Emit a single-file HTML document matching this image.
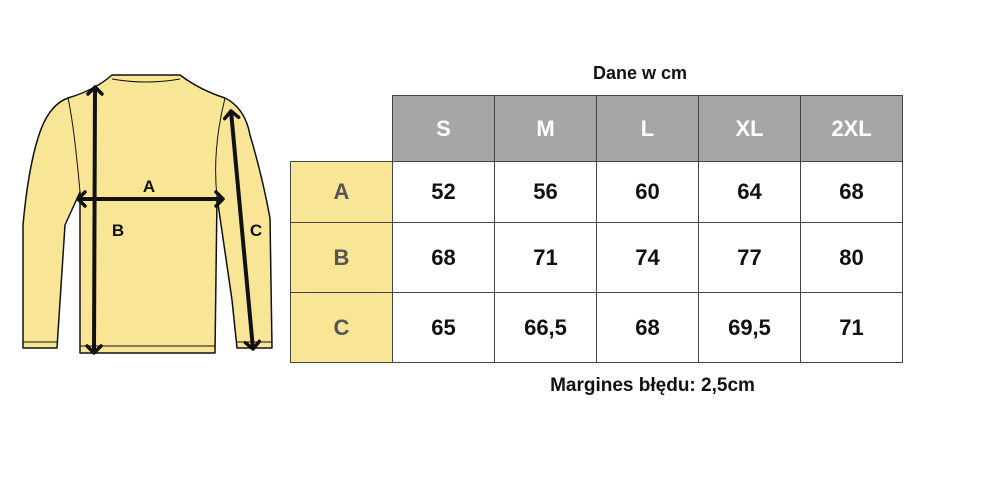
<!DOCTYPE html>
<html><head><style>
body{margin:0;width:1000px;height:500px;background:#fff;position:relative;overflow:hidden;font-family:"Liberation Sans",sans-serif;font-weight:bold}
.c{position:absolute;box-sizing:border-box;border:1.5px solid #444;display:flex;align-items:center;justify-content:center;font-size:22px;color:#111}
.h{background:#a6a6a6;color:#fff}
.y{background:#f8e596;color:#555}
.t{position:absolute;font-size:18px;color:#111}
</style></head><body>
<svg width="290" height="380" style="position:absolute;left:0;top:0">
<defs><marker id="a" markerWidth="20" markerHeight="20" refX="10" refY="10" orient="auto-start-reverse" markerUnits="userSpaceOnUse"><path d="M3,3 L10,10 L3,17" fill="none" stroke="#111" stroke-width="3.5" stroke-linecap="round" stroke-linejoin="round"/></marker></defs>
<path d="M112,75 L180,75 Q200,90 225,98 Q245,108 250,135 Q262,175 270,218 L272,348 L237,348 L232,300 L217,197 L215,353 L80,353 L80,192 L65,225 L57,348 L23,348 L23,225 Q28,170 38,138 Q48,105 68,98 Q95,90 112,75 Z" fill="#f8e596" stroke="#111" stroke-width="1.5" stroke-linejoin="round"/>
<path d="M68,98 Q74,125 80,192 M225,98 Q212,150 217,197 M23,342 L57,342 M237,342 L272,342 M80,346 L215,346 M112,79 Q146,85 180,79" fill="none" stroke="#111" stroke-width="1"/>
<g stroke="#111" stroke-width="4" fill="none">
<line x1="95" y1="87" x2="94" y2="353" marker-start="url(#a)" marker-end="url(#a)"/>
<line x1="78" y1="199" x2="223" y2="199" marker-start="url(#a)" marker-end="url(#a)"/>
<line x1="231" y1="111" x2="253" y2="349" marker-start="url(#a)" marker-end="url(#a)"/>
</g>
<text x="149" y="192" font-family="Liberation Sans" font-weight="bold" font-size="17" text-anchor="middle" fill="#111">A</text>
<text x="118" y="236" font-family="Liberation Sans" font-weight="bold" font-size="17" text-anchor="middle" fill="#111">B</text>
<text x="256" y="236" font-family="Liberation Sans" font-weight="bold" font-size="17" text-anchor="middle" fill="#111">C</text>
</svg>
<div class="t" style="left:540px;top:63px;width:200px;text-align:center">Dane w cm</div>
<div class="c h" style="left:392px;top:95px;width:103px;height:67px">S</div>
<div class="c h" style="left:494px;top:95px;width:103px;height:67px">M</div>
<div class="c h" style="left:596px;top:95px;width:103px;height:67px">L</div>
<div class="c h" style="left:698px;top:95px;width:103px;height:67px">XL</div>
<div class="c h" style="left:800px;top:95px;width:103px;height:67px">2XL</div>
<div class="c y" style="left:290px;top:161px;width:103px;height:62px">A</div>
<div class="c y" style="left:290px;top:222px;width:103px;height:71px">B</div>
<div class="c y" style="left:290px;top:292px;width:103px;height:71px">C</div>
<div class="c" style="left:392px;top:161px;width:103px;height:62px">52</div>
<div class="c" style="left:494px;top:161px;width:103px;height:62px">56</div>
<div class="c" style="left:596px;top:161px;width:103px;height:62px">60</div>
<div class="c" style="left:698px;top:161px;width:103px;height:62px">64</div>
<div class="c" style="left:800px;top:161px;width:103px;height:62px">68</div>
<div class="c" style="left:392px;top:222px;width:103px;height:71px">68</div>
<div class="c" style="left:494px;top:222px;width:103px;height:71px">71</div>
<div class="c" style="left:596px;top:222px;width:103px;height:71px">74</div>
<div class="c" style="left:698px;top:222px;width:103px;height:71px">77</div>
<div class="c" style="left:800px;top:222px;width:103px;height:71px">80</div>
<div class="c" style="left:392px;top:292px;width:103px;height:71px">65</div>
<div class="c" style="left:494px;top:292px;width:103px;height:71px">66,5</div>
<div class="c" style="left:596px;top:292px;width:103px;height:71px">68</div>
<div class="c" style="left:698px;top:292px;width:103px;height:71px">69,5</div>
<div class="c" style="left:800px;top:292px;width:103px;height:71px">71</div>
<div class="t" style="left:500px;top:375px;width:305px;text-align:center;font-size:19px">Margines błędu: 2,5cm</div>
</body></html>
